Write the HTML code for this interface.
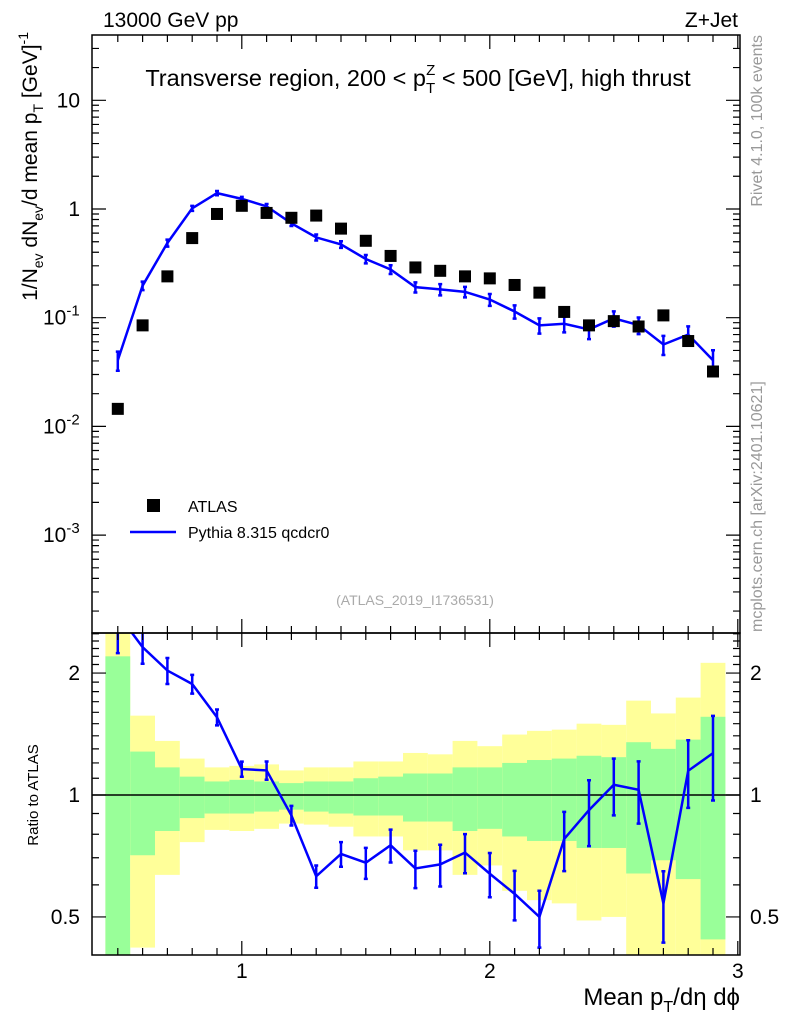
<!DOCTYPE html>
<html><head><meta charset="utf-8"><style>
html,body{margin:0;padding:0;background:#fff}
svg{display:block;font-family:"Liberation Sans",Arial,sans-serif}
</style></head><body>
<svg id="chart" width="786" height="1024" viewBox="0 0 786 1024">
<g id="bands"></g>
<g id="marks"></g>
<g id="axes"></g>
<text x="103" y="27" font-size="21">13000 GeV pp</text>
<text x="738" y="27" font-size="21" text-anchor="end">Z+Jet</text>
<text x="418" y="86" font-size="23.5" text-anchor="middle">Transverse region, 200 &lt; p<tspan font-size="15" dy="7">T</tspan><tspan font-size="15" dx="-9" dy="-18">Z</tspan><tspan dy="11"> &lt; 500 [GeV], high thrust</tspan></text>
<text x="415" y="605" font-size="14" fill="#aaa" text-anchor="middle">(ATLAS_2019_I1736531)</text>
<text transform="translate(762,35) rotate(-90)" font-size="16" fill="#999" text-anchor="end">Rivet 4.1.0,  100k events</text>
<text transform="translate(762,632) rotate(-90)" font-size="16" fill="#999">mcplots.cern.ch [arXiv:2401.10621]</text>
<text transform="translate(37,32) rotate(-90)" font-size="21" text-anchor="end">1/N<tspan font-size="14" dy="6">ev</tspan><tspan dy="-6"> dN</tspan><tspan font-size="14" dy="6">ev</tspan><tspan dy="-6">/d mean p</tspan><tspan font-size="14" dy="6">T</tspan><tspan dy="-6">  [GeV]</tspan><tspan font-size="14" dy="-9">-1</tspan></text>
<text transform="translate(38,795) rotate(-90)" font-size="15" text-anchor="middle">Ratio to ATLAS</text>
<text x="740" y="1005" font-size="24" text-anchor="end">Mean p<tspan font-size="16" dy="7">T</tspan><tspan dy="-7">/dη dϕ</tspan></text>
<g>
<rect x="147" y="499" width="13" height="13" fill="#000"/>
<text x="188" y="512" font-size="16">ATLAS</text>
<line x1="130" y1="532" x2="176" y2="532" stroke="#0000ff" stroke-width="2.5"/>
<text x="188" y="538" font-size="16">Pythia 8.315 qcdcr0</text>
</g>
</svg>
<script>
const xs=[0.5,0.6,0.7,0.8,0.9,1.0,1.1,1.2,1.3,1.4,1.5,1.6,1.7,1.8,1.9,2.0,2.1,2.2,2.3,2.4,2.5,2.6,2.7,2.8,2.9];
const atlas=[0.0145,0.085,0.24,0.54,0.9,1.07,0.92,0.83,0.87,0.66,0.51,0.37,0.29,0.27,0.24,0.23,0.2,0.17,0.113,0.085,0.093,0.083,0.105,0.061,0.032];
const mc=[0.0406,0.197,0.487,1.015,1.40,1.24,1.058,0.739,0.548,0.472,0.347,0.278,0.191,0.182,0.173,0.147,0.114,0.085,0.088,0.078,0.0986,0.0855,0.0567,0.070,0.0406];
const mcRelErr=[0.2,0.09,0.074,0.053,0.045,0.043,0.052,0.056,0.063,0.07,0.088,0.093,0.106,0.118,0.111,0.125,0.14,0.16,0.167,0.185,0.16,0.175,0.2,0.19,0.236];
const greenLo=[0.3,0.71,0.815,0.877,0.90,0.90,0.91,0.92,0.91,0.90,0.89,0.89,0.86,0.86,0.815,0.825,0.79,0.77,0.77,0.74,0.74,0.64,0.69,0.62,0.44];
const greenHi=[2.2,1.28,1.17,1.11,1.08,1.09,1.08,1.07,1.08,1.08,1.10,1.11,1.13,1.13,1.17,1.17,1.2,1.22,1.23,1.25,1.24,1.35,1.30,1.37,1.56];
const yellowLo=[0.3,0.42,0.635,0.765,0.82,0.815,0.825,0.85,0.845,0.835,0.79,0.79,0.73,0.73,0.635,0.67,0.58,0.55,0.54,0.49,0.50,0.3,0.3,0.3,0.3];
const yellowHi=[3,1.57,1.36,1.23,1.17,1.18,1.19,1.15,1.17,1.17,1.21,1.21,1.27,1.26,1.36,1.32,1.41,1.44,1.45,1.5,1.49,1.71,1.59,1.74,2.12];
const mainTicks=[10,1,0.1,0.01,0.001];
const mainTickLabels=[["10",""],["1",""],["10","-1"],["10","-2"],["10","-3"]];
const ratioTicks=[2,1,0.5];
const xTicks=[1,2,3];
const binW=0.1;

const NS="http://www.w3.org/2000/svg";
const L=92,R=740,T=35,B=633,RB=955;
const X=v=>93+(v-0.4)*248;
const Y=v=>209-108.7*Math.log10(v);
const RY=v=>795-405*Math.log10(v);
function mk(parent,tag,attrs){const e=document.createElementNS(NS,tag);for(const k in attrs)e.setAttribute(k,attrs[k]);document.getElementById(parent).appendChild(e);return e;}
const clampR=v=>Math.min(Math.max(RY(v),B),RB);

for(let i=0;i<xs.length;i++){
  const x0=X(xs[i]-binW/2),x1=X(xs[i]+binW/2);
  let y=mk('bands','rect',{x:x0,y:clampR(yellowHi[i]),width:x1-x0,height:clampR(yellowLo[i])-clampR(yellowHi[i]),fill:'#ffff99'});
  
  
  let g=mk('bands','rect',{x:x0,y:clampR(greenHi[i]),width:x1-x0,height:clampR(greenLo[i])-clampR(greenHi[i]),fill:'#99ff99'});
  
  
}
let one=mk('bands','line',{x1:L,x2:R,y1:RY(1),y2:RY(1),stroke:'#000','stroke-width':1.5});



const defs=mk('marks','defs',{});
const cp=document.createElementNS(NS,'clipPath');cp.setAttribute('id','rclip');defs.appendChild(cp);
const cr=document.createElementNS(NS,'rect');cr.setAttribute('x',L);cr.setAttribute('y',B);cr.setAttribute('width',R-L);cr.setAttribute('height',RB-B);cp.appendChild(cr);

let pts=xs.map((x,i)=>X(x)+','+Y(mc[i])).join(' ');
let ml=mk('marks','polyline',{points:pts,fill:'none',stroke:'#0000ff','stroke-width':2.5});


const ratio=mc.map((m,i)=>m/atlas[i]);
let rpts=xs.map((x,i)=>X(x)+','+RY(ratio[i])).join(' ');
let rl=mk('marks','polyline',{points:rpts,fill:'none',stroke:'#0000ff','stroke-width':2.5,'clip-path':'url(#rclip)'});


for(let i=0;i<xs.length;i++){
  const x=X(xs[i]);
  const e=mc[i]*mcRelErr[i];
  let eb=mk('marks','path',{d:`M${x},${Y(mc[i]-e)}V${Y(mc[i]+e)}M${x-2},${Y(mc[i]-e)}h4M${x-2},${Y(mc[i]+e)}h4`,stroke:'#0000ff','stroke-width':2.5,fill:'none'});
  
  
  const r=ratio[i],re=r*mcRelErr[i];
  let rb=mk('marks','path',{d:`M${x},${RY(r-re)}V${RY(r+re)}M${x-2},${RY(r-re)}h4M${x-2},${RY(r+re)}h4`,stroke:'#0000ff','stroke-width':2.5,fill:'none','clip-path':'url(#rclip)'});
  
  
  let p=mk('marks','rect',{x:x-6,y:Y(atlas[i])-6,width:12,height:12,fill:'#000'});
  
  
}

for(const [y0,y1] of [[T,B],[B,RB]]){
  let f=mk('axes','rect',{x:L,y:y0,width:R-L,height:y1-y0,fill:'none',stroke:'#000','stroke-width':1.5});
  
  
}
for(let d=-4;d<=1;d++){
  for(let m=1;m<10;m++){
    const v=m*Math.pow(10,d),y=Y(v);
    if(y<T||y>B)continue;
    const len=m==1?14:7;
    let t=mk('axes','path',{d:`M${L},${y}h${len}M${R},${y}h${-len}`,stroke:'#000','stroke-width':1.2});
    
    
  }
}
mainTicks.forEach((v,i)=>{
  const lab=mainTickLabels[i];
  let t=mk('axes','text',{x:80,y:Y(v)+7,'font-size':21,'text-anchor':'end'});
  
  
  if(lab[1]){t.setAttribute('text-anchor','start');t.setAttribute('x',43);t.textContent=lab[0];
    const s=document.createElementNS(NS,'tspan');s.setAttribute('font-size','15');s.setAttribute('dy','-9');s.textContent=lab[1];t.appendChild(s);}
  else t.textContent=lab[0];
});
for(let v=0.4;v<=2.5;v=+(v+0.1).toFixed(1)){
  const y=RY(v);if(y<B||y>RB)continue;
  const major=ratioTicks.includes(v);
  const len=major?14:7;
  let t=mk('axes','path',{d:`M${L},${y}h${len}M${R},${y}h${-len}`,stroke:'#000','stroke-width':1.2});
  
  
}
ratioTicks.forEach(v=>{
  let a=mk('axes','text',{x:80,y:RY(v)+7,'font-size':21,'text-anchor':'end'});a.textContent=v;
  
  
  let b=mk('axes','text',{x:750,y:RY(v)+7,'font-size':21});b.textContent=v;
  
  
});
for(let k=5;k<=30;k++){
  const v=k/10,x=X(v);if(x<L||x>R+1)continue;
  const major=k%10==0,len=major?14:7;
  let t=mk('axes','path',{d:`M${x},${T}v${len}M${x},${B}v${-len}M${x},${B}v${len}M${x},${RB}v${-len}`,stroke:'#000','stroke-width':1.2});
  
  
}
xTicks.forEach(v=>{
  let t=mk('axes','text',{x:X(v),y:978,'font-size':21,'text-anchor':'middle'});t.textContent=v;
  
  
});
</script>
</body></html>
